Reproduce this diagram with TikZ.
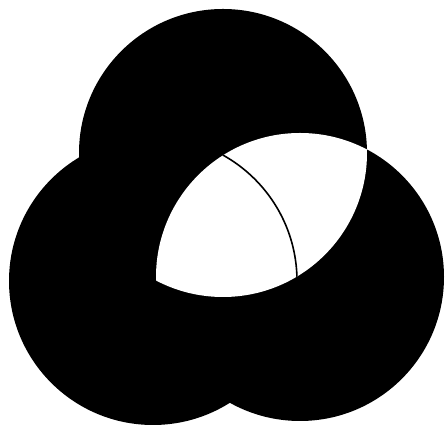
\documentclass[tikz,border=0pt]{standalone}
\usepackage{tikz}
\begin{document}
\begin{tikzpicture}[x=1pt, y=1pt,
	% --- ESTILOS ---
	disc/.style={fill=black, draw=none},
	lens/.style={fill=white, draw=none},
	rim/.style={draw=black, line width=1.6pt}
	]
	\useasboundingbox (0,0) rectangle (445,427);
	
	% ==========================================
	% 1. Centros de los tres circulos
	% ==========================================
	\def\radio{144}
	\coordinate (c_top) at (223,274);
	\coordinate (c_left) at (153,146);
	\coordinate (c_right) at (300,150);
	
	% ==========================================
	% 2. Discos negros
	% ==========================================
	\foreach \c in {c_top, c_left, c_right}
		\fill [disc] (\c) circle (\radio);
	
	% ==========================================
	% 3. Lente blanca (arriba y derecha) y borde del izquierdo
	% ==========================================
	\begin{scope}
		\clip (c_top) circle (\radio);
		\fill [lens] (c_right) circle (\radio);
		\clip (c_right) circle (\radio);
		\draw [rim] (c_left) circle (\radio);
	\end{scope}
\end{tikzpicture}
\end{document}
